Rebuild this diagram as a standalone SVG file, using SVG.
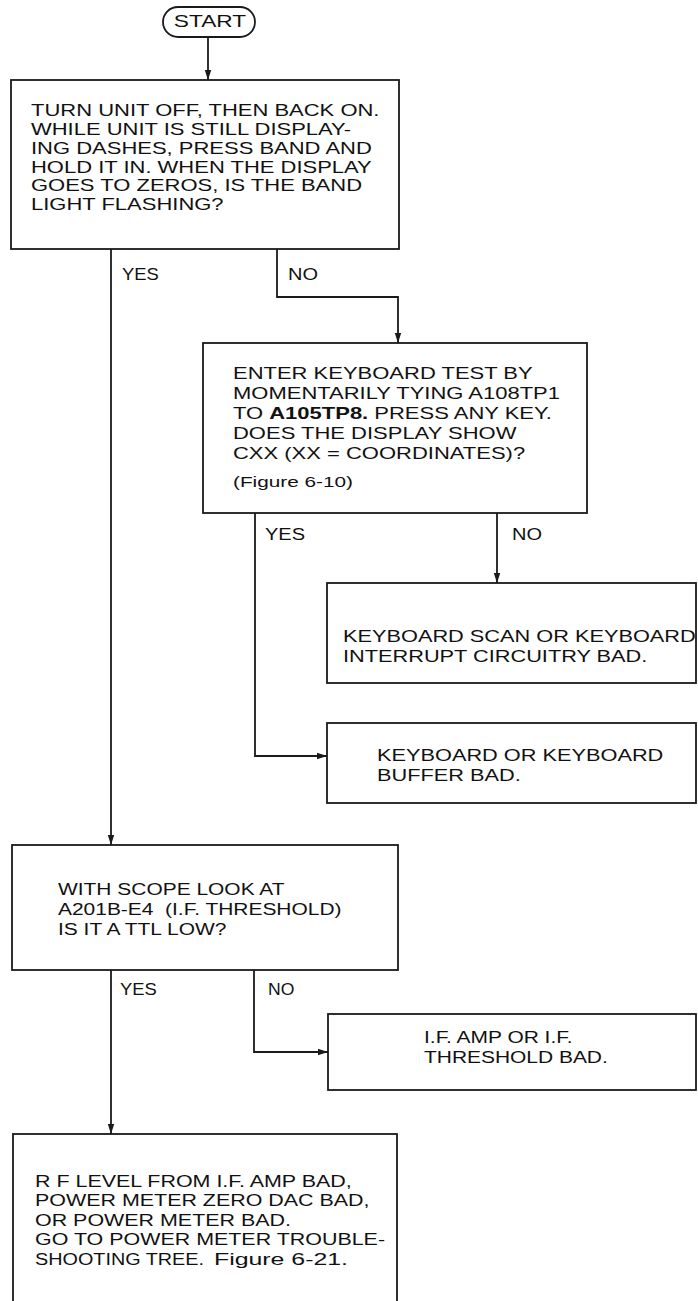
<svg xmlns="http://www.w3.org/2000/svg" width="698" height="1301" viewBox="0 0 698 1301">
<defs>
<style>
.box{fill:#fff;stroke:#1a1a1a;stroke-width:1.8}
.ln{fill:none;stroke:#1a1a1a;stroke-width:1.8}
.t{font-family:"Liberation Sans",Arial,sans-serif;font-size:16px;fill:#111}
.f{font-family:"Liberation Sans",Arial,sans-serif;font-size:15px;fill:#111}
</style>
<marker id="ah" markerUnits="userSpaceOnUse" markerWidth="11" markerHeight="8" refX="10" refY="4" orient="auto"><path d="M0,0.8 L10,4 L0,7.2 Z" fill="#1a1a1a"/></marker>
</defs>
<rect width="698" height="1301" fill="#fff"/>

<g id="start">
<rect class="box" x="163" y="7" width="92" height="30" rx="15"/>
<text class="t" transform="translate(210 27) scale(1.42 1)" x="0" y="0" text-anchor="middle">START</text>
</g>

<g id="n1">
<rect class="box" x="11" y="80" width="388" height="169"/>
<g class="t" transform="translate(31 0) scale(1.375 1)">
<text x="0" y="116">TURN UNIT OFF, THEN BACK ON.</text>
<text x="0" y="135">WHILE UNIT IS STILL DISPLAY-</text>
<text x="0" y="154">ING DASHES, PRESS BAND AND</text>
<text x="0" y="173">HOLD IT IN. WHEN THE DISPLAY</text>
<text x="0" y="191">GOES TO ZEROS, IS THE BAND</text>
<text x="0" y="210">LIGHT FLASHING?</text>
</g>
</g>

<g id="n2">
<rect class="box" x="203" y="343" width="384" height="170"/>
<g class="t" transform="translate(233 0) scale(1.375 1)">
<text x="0" y="379">ENTER KEYBOARD TEST BY</text>
<text x="0" y="399">MOMENTARILY TYING A108TP1</text>
<text x="0" y="419">TO <tspan font-weight="bold">A105TP8.</tspan> PRESS ANY KEY.</text>
<text x="0" y="439">DOES THE DISPLAY SHOW</text>
<text x="0" y="459">CXX (XX = COORDINATES)?</text>
</g>
<text class="f" x="233" y="487" textLength="120" lengthAdjust="spacingAndGlyphs">(Figure 6-10)</text>
</g>

<g id="n3">
<rect class="box" x="327" y="583" width="369" height="100"/>
<g class="t" transform="translate(343 0) scale(1.36 1)">
<text x="0" y="642">KEYBOARD SCAN OR KEYBOARD</text>
<text x="0" y="662">INTERRUPT CIRCUITRY BAD.</text>
</g>
</g>

<g id="n4">
<rect class="box" x="327" y="723" width="369" height="80"/>
<g class="t" transform="translate(377 0) scale(1.36 1)">
<text x="0" y="761">KEYBOARD OR KEYBOARD</text>
<text x="0" y="781">BUFFER BAD.</text>
</g>
</g>

<g id="n5">
<rect class="box" x="12" y="845" width="386" height="125"/>
<g class="t" transform="translate(58 0) scale(1.27 1)" style="font-size:16.5px">
<text x="0" y="895">WITH SCOPE LOOK AT</text>
<text x="0" y="915" style="white-space:pre">A201B-E4  (I.F. THRESHOLD)</text>
<text x="0" y="935">IS IT A TTL LOW?</text>
</g>
</g>

<g id="n6">
<rect class="box" x="328" y="1014" width="368" height="76"/>
<g class="t" transform="translate(424 0) scale(1.31 1)">
<text x="0" y="1043">I.F. AMP OR I.F.</text>
<text x="0" y="1063">THRESHOLD BAD.</text>
</g>
</g>

<g id="n7">
<rect class="box" x="13" y="1134" width="384" height="200"/>
<g class="t" transform="translate(35 0) scale(1.34 1)">
<text x="0" y="1187">R F LEVEL FROM I.F. AMP BAD,</text>
<text x="0" y="1206">POWER METER ZERO DAC BAD,</text>
<text x="0" y="1226">OR POWER METER BAD.</text>
<text x="0" y="1245">GO TO POWER METER TROUBLE-</text>
</g>
<text class="t" x="35" y="1265" textLength="169" lengthAdjust="spacingAndGlyphs">SHOOTING TREE.</text>
<text class="t" x="214" y="1265" textLength="134" lengthAdjust="spacingAndGlyphs">Figure 6-21.</text>
</g>

<g id="connectors">
<path class="ln" d="M208,37 V80" marker-end="url(#ah)"/>
<path class="ln" d="M111,249 V845" marker-end="url(#ah)"/>
<path class="ln" d="M277,249 V297 H398 V343" marker-end="url(#ah)"/>
<path class="ln" d="M255,513 V756 H327" marker-end="url(#ah)"/>
<path class="ln" d="M497,513 V583" marker-end="url(#ah)"/>
<path class="ln" d="M111,970 V1134" marker-end="url(#ah)"/>
<path class="ln" d="M254,970 V1052 H328" marker-end="url(#ah)"/>
</g>

<g id="labels" class="t">
<text transform="translate(122 280) scale(1.15 1)">YES</text>
<text transform="translate(288 280) scale(1.25 1)">NO</text>
<text transform="translate(265 540) scale(1.25 1)">YES</text>
<text transform="translate(512 540) scale(1.25 1)">NO</text>
<text transform="translate(120 995) scale(1.15 1)">YES</text>
<text transform="translate(268 995) scale(1.1 1)">NO</text>
</g>
</svg>
